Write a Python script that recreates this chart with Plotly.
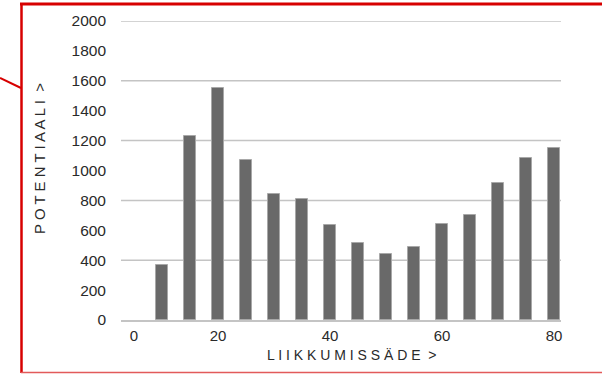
import plotly.graph_objects as go

# Movement radius (x) and potential (y) per bar
radius = [10, 15, 20, 25, 30, 35, 40, 45, 50, 55, 60, 65, 70, 75, 80]
potential = [370, 1230, 1550, 1070, 845, 810, 635, 515, 440, 490, 640, 705, 915, 1085, 1150]

# Axis labelling
x_tick_vals = [5, 20, 40, 60, 80]
x_tick_text = ["0", "20", "40", "60", "80"]
y_tick_vals = list(range(0, 2001, 200))
grid_vals = [400, 800, 1200, 1600, 2000]

W, H = 602, 375
L, R, T, B = 121, 41, 21, 55
plot_w = W - L - R
plot_h = H - T - B


def px_x(px):
    return (px - L) / plot_w


def px_y(py):
    return (H - B - py) / plot_h


fig = go.Figure(
    go.Bar(
        x=radius,
        y=potential,
        width=2.1,
        marker=dict(color="#696969", line=dict(color="#a8a8a8", width=1)),
        hoverinfo="x+y",
    )
)

shapes = []
for g in grid_vals:
    shapes.append(dict(type="line", xref="paper", yref="y", x0=0, x1=1, y0=g, y1=g,
                       line=dict(color="#c4c4c4", width=1.5), layer="below"))

# Red frame around the chart and the pointer line on the left
red = "#d70000"
shapes += [
    dict(type="line", xref="paper", yref="paper", x0=px_x(20), x1=px_x(602),
         y0=px_y(4), y1=px_y(4), line=dict(color=red, width=3)),
    dict(type="line", xref="paper", yref="paper", x0=px_x(21.5), x1=px_x(21.5),
         y0=px_y(3), y1=px_y(373), line=dict(color=red, width=2.5)),
    dict(type="line", xref="paper", yref="paper", x0=px_x(21), x1=px_x(602),
         y0=px_y(372.5), y1=px_y(372.5), line=dict(color="#e25a5a", width=1.5)),
    dict(type="line", xref="paper", yref="paper", x0=px_x(0), x1=px_x(21),
         y0=px_y(78), y1=px_y(88), line=dict(color=red, width=2)),
]

annotations = [
    dict(text="L I I K K U M I S S Ä D E  >", xref="paper", yref="paper",
         x=px_x(351), y=px_y(355), xanchor="center", yanchor="middle", showarrow=False,
         font=dict(family="Liberation Sans", size=14, color="#2a2a2a")),
    dict(text="P O T E N T I A A L I  >", xref="paper", yref="paper",
         x=px_x(39), y=px_y(159), xanchor="center", yanchor="middle", showarrow=False,
         textangle=-90,
         font=dict(family="Liberation Sans", size=15, color="#2a2a2a")),
]

fig.update_layout(
    width=W,
    height=H,
    margin=dict(l=L, r=R, t=T, b=B, pad=0),
    paper_bgcolor="white",
    plot_bgcolor="white",
    showlegend=False,
    bargap=0,
    shapes=shapes,
    annotations=annotations,
    font=dict(family="Liberation Sans", color="#2a2a2a"),
    xaxis=dict(
        range=[2.68, 81.25],
        tickvals=x_tick_vals,
        ticktext=x_tick_text,
        showgrid=False,
        zeroline=False,
        showline=True,
        linecolor="#c4c4c4",
        linewidth=1.5,
        ticks="",
        ticklabelstandoff=1,
        tickfont=dict(family="Liberation Sans Narrow, Liberation Sans", size=15, color="#2a2a2a"),
    ),
    yaxis=dict(
        range=[0, 2000],
        tickvals=y_tick_vals,
        showgrid=False,
        zeroline=False,
        showline=False,
        ticks="",
        ticklabelstandoff=14,
        tickfont=dict(family="Liberation Sans", size=15.5, color="#2a2a2a"),
    ),
)

fig.write_html("out.html")
